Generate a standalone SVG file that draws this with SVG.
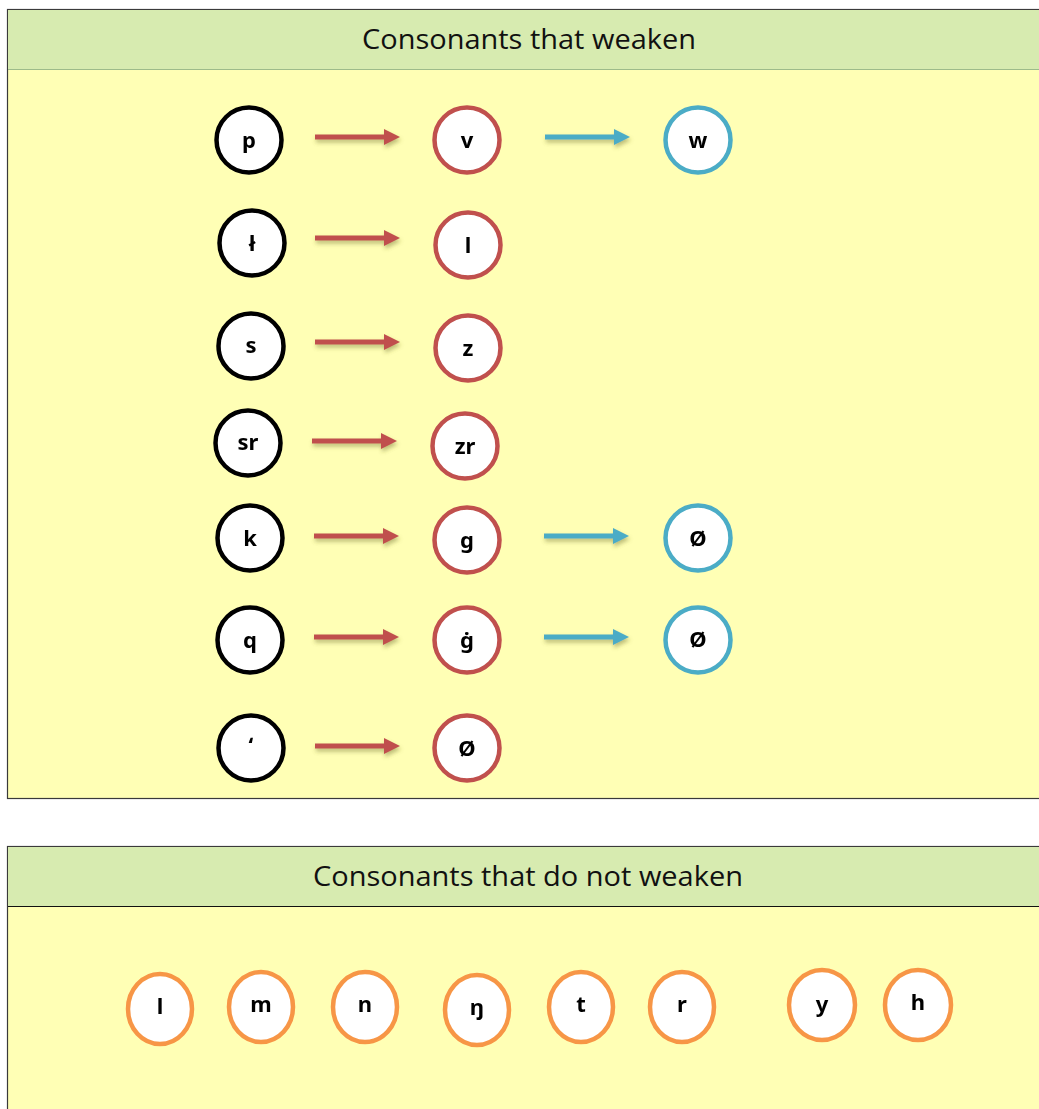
<svg xmlns="http://www.w3.org/2000/svg" width="1039" height="1109" viewBox="0 0 1039 1109">
<defs>
<style>
.panel{fill:#FFFFB5;stroke:#3a3a3a;stroke-width:1.2}
.head{fill:#D7EBB0}
.htxt{font-family:"Open Sans","Noto Sans",sans-serif;font-size:27px;fill:#111;text-anchor:middle}
.n{fill:#fff;stroke-width:4.5}
.blk{stroke:#000}
.red{stroke:#C0504D}
.blu{stroke:#4BACC6}
.org{stroke:#F79646}
.lbl{font-family:"Noto Sans","Open Sans",sans-serif;font-weight:bold;font-size:22px;fill:#000;text-anchor:middle;dominant-baseline:central}
.ar{fill:#C0504D}
.ab{fill:#4BACC6}
</style>
<filter id="sh" x="-20%" y="-50%" width="140%" height="250%">
<feGaussianBlur in="SourceAlpha" stdDeviation="2"/>
<feOffset dx="1" dy="3" result="b"/>
<feFlood flood-color="#6b6b2a" flood-opacity="0.45"/>
<feComposite in2="b" operator="in"/>
<feMerge><feMergeNode/><feMergeNode in="SourceGraphic"/></feMerge>
</filter>
<path id="arr" d="M0,-2.5 H69 V-8 L85,0 L69,8 V2.5 H0 Z"/>
</defs>

<g id="panel-weaken">
<rect class="panel" x="7.5" y="9.5" width="1040" height="789"/>
<rect class="head" x="8" y="10" width="1040" height="59"/>
<line x1="8" y1="69.5" x2="1040" y2="69.5" stroke="#9DBB8A" stroke-width="1.2"/>
<text class="htxt" x="529" y="49" textLength="334" lengthAdjust="spacingAndGlyphs">Consonants that weaken</text>
</g>

<g id="panel-noweaken">
<rect class="panel" x="7.5" y="846.5" width="1040" height="270" stroke="#111"/>
<rect class="head" x="8" y="847" width="1040" height="59"/>
<line x1="8" y1="906.5" x2="1040" y2="906.5" stroke="#111" stroke-width="1.2"/>
<text class="htxt" x="528" y="886" textLength="430" lengthAdjust="spacingAndGlyphs">Consonants that do not weaken</text>
</g>

<g id="connectors" filter="url(#sh)">
<use href="#arr" class="ar" x="315" y="137"/>
<use href="#arr" class="ab" x="545" y="137"/>
<use href="#arr" class="ar" x="315" y="238"/>
<use href="#arr" class="ar" x="315" y="342"/>
<use href="#arr" class="ar" x="312" y="441"/>
<use href="#arr" class="ar" x="314" y="536"/>
<use href="#arr" class="ab" x="544" y="536"/>
<use href="#arr" class="ar" x="314" y="637"/>
<use href="#arr" class="ab" x="544" y="637"/>
<use href="#arr" class="ar" x="315" y="746"/>
</g>

<g id="n-p"><circle class="n blk" cx="249" cy="140" r="32.5"/><text class="lbl" x="249" y="139">p</text></g>
<g id="n-v"><circle class="n red" cx="467" cy="140" r="32.5"/><text class="lbl" x="467" y="139">v</text></g>
<g id="n-w"><circle class="n blu" cx="698" cy="140" r="32.5"/><text class="lbl" x="698" y="139">w</text></g>

<g id="n-lstroke"><circle class="n blk" cx="252" cy="243" r="32.5"/><text class="lbl" x="252" y="242">ł</text></g>
<g id="n-l"><circle class="n red" cx="468" cy="245" r="32.5"/><text class="lbl" x="468" y="244">l</text></g>

<g id="n-s"><circle class="n blk" cx="251" cy="346" r="32.5"/><text class="lbl" x="251" y="344">s</text></g>
<g id="n-z"><circle class="n red" cx="468" cy="348" r="32.5"/><text class="lbl" x="468" y="347">z</text></g>

<g id="n-sr"><circle class="n blk" cx="248" cy="443" r="32.5"/><text class="lbl" x="248" y="441">sr</text></g>
<g id="n-zr"><circle class="n red" cx="465" cy="446" r="32.5"/><text class="lbl" x="465" y="445">zr</text></g>

<g id="n-k"><circle class="n blk" cx="250" cy="538" r="32.5"/><text class="lbl" x="250" y="537">k</text></g>
<g id="n-g"><circle class="n red" cx="467" cy="540" r="32.5"/><text class="lbl" x="467" y="539">g</text></g>
<g id="n-null1"><circle class="n blu" cx="698" cy="538" r="32.5"/><text class="lbl" x="698" y="537">Ø</text></g>

<g id="n-q"><circle class="n blk" cx="250" cy="640" r="32.5"/><text class="lbl" x="250" y="639">q</text></g>
<g id="n-gdot"><circle class="n red" cx="467" cy="640" r="32.5"/><text class="lbl" x="467" y="639">ġ</text></g>
<g id="n-null2"><circle class="n blu" cx="698" cy="640" r="32.5"/><text class="lbl" x="698" y="638">Ø</text></g>

<g id="n-glottal"><circle class="n blk" cx="251" cy="748" r="32.5"/><text class="lbl" x="251" y="744">ʻ</text></g>
<g id="n-null3"><circle class="n red" cx="467" cy="748" r="32.5"/><text class="lbl" x="467" y="747">Ø</text></g>

<g id="b-l"><ellipse class="n org" cx="160" cy="1009" rx="32" ry="35"/><text class="lbl" x="160" y="1005">l</text></g>
<g id="b-m"><ellipse class="n org" cx="261" cy="1007" rx="32" ry="35"/><text class="lbl" x="261" y="1003">m</text></g>
<g id="b-n"><ellipse class="n org" cx="365" cy="1007" rx="32" ry="35"/><text class="lbl" x="365" y="1003">n</text></g>
<g id="b-eng"><ellipse class="n org" cx="477" cy="1010" rx="32" ry="35"/><text class="lbl" x="477" y="1006">ŋ</text></g>
<g id="b-t"><ellipse class="n org" cx="581" cy="1007" rx="32" ry="35"/><text class="lbl" x="581" y="1003">t</text></g>
<g id="b-r"><ellipse class="n org" cx="682" cy="1007" rx="32" ry="35"/><text class="lbl" x="682" y="1003">r</text></g>
<g id="b-y"><ellipse class="n org" cx="822" cy="1005" rx="33" ry="35"/><text class="lbl" x="822" y="1003">y</text></g>
<g id="b-h"><ellipse class="n org" cx="918" cy="1005" rx="33" ry="35"/><text class="lbl" x="918" y="1001">h</text></g>
</svg>
